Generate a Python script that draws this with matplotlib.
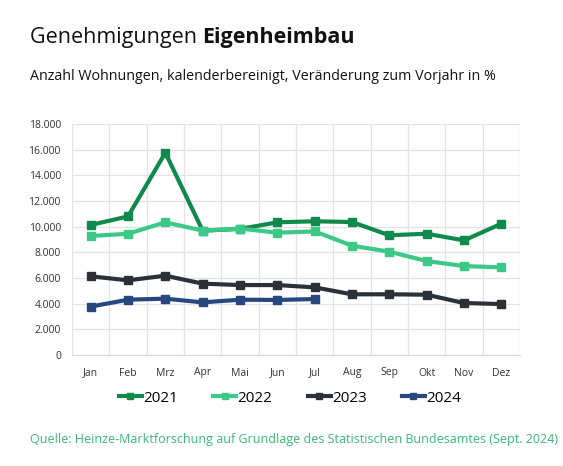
import matplotlib
matplotlib.use("Agg")
import matplotlib.pyplot as plt
from matplotlib.ticker import FuncFormatter, MultipleLocator

months = ["Jan", "Feb", "Mrz", "Apr", "Mai", "Jun", "Jul", "Aug", "Sep", "Okt", "Nov", "Dez"]
v2021 = [10130, 10800, 15760, 9690, 9820, 10340, 10420, 10360, 9330, 9450, 8930, 10230]
v2022 = [9270, 9450, 10340, 9690, 9850, 9530, 9630, 8520, 8050, 7320, 6930, 6830]
v2023 = [6130, 5820, 6180, 5560, 5450, 5450, 5270, 4730, 4730, 4700, 4050, 3970]
v2024 = [3770, 4310, 4390, 4100, 4310, 4290, 4360]

series = [("2021", v2021, "#108a4c"), ("2022", v2022, "#3cc987"),
          ("2023", v2023, "#2c3038"), ("2024", v2024, "#27487f")]

plt.rcParams['font.family'] = ['Open Sans', 'DejaVu Sans']
fig = plt.figure(figsize=(5.63, 4.66), dpi=100)
ax = fig.add_axes([72/563, 1-355/466, 448/563, 231/466])

for name, vals, col in series:
    ax.plot(range(len(vals)), vals, color=col, lw=3.0, marker='s', ms=5.5, label=name)

ax.set_xlim(-0.5, 11.5)
ax.set_ylim(0, 18000)
ax.yaxis.set_major_locator(MultipleLocator(2000))
ax.yaxis.set_major_formatter(FuncFormatter(lambda v, p: f"{int(v):,}".replace(",", ".")))
ax.set_xticks(range(12))
ax.set_xticklabels(months)
ax.set_xticks([i + 0.5 for i in range(-1, 12)], minor=True)
ax.grid(True, which='minor', axis='x', color='#e3e3e3', lw=0.9)
ax.grid(True, which='major', axis='y', color='#e3e3e3', lw=0.9)
ax.tick_params(axis='both', which='both', length=0, labelsize=7.5, colors='#333333')
ax.tick_params(axis='x', pad=9)
ax.tick_params(axis='y', pad=8)
for s in ax.spines.values():
    s.set_visible(False)
ax.spines['bottom'].set_visible(True)
ax.spines['bottom'].set_color('#d9d9d9')
ax.set_axisbelow(True)

fig.legend(loc='center', bbox_to_anchor=(290/563, 1-398/466), ncol=4, frameon=False,
           fontsize=11, handlelength=1.5, handletextpad=0.1, columnspacing=2.3, markerscale=0.8)

fig.text(30/563, 1-37/466, "Genehmigungen ", fontsize=15.5, va='center', ha='left', color='#111111')
t = fig.text(30/563, 1-37/466, "Genehmigungen ", fontsize=15.5, va='center', ha='left', alpha=0)
fig.canvas.draw()
bb = t.get_window_extent()
fig.text(bb.x1/563, 1-37/466, "Eigenheimbau", fontsize=15.5, fontweight='bold', va='center', ha='left', color='#111111')
fig.text(30/563, 1-77/466, "Anzahl Wohnungen, kalenderbereinigt, Veränderung zum Vorjahr in %",
         fontsize=10.25, va='center', ha='left', color='#111111')
fig.text(30/563, 1-439/466, "Quelle: Heinze-Marktforschung auf Grundlage des Statistischen Bundesamtes (Sept. 2024)",
         fontsize=9, va='center', ha='left', color='#3cb878')

fig.savefig("out.png", dpi=100)
